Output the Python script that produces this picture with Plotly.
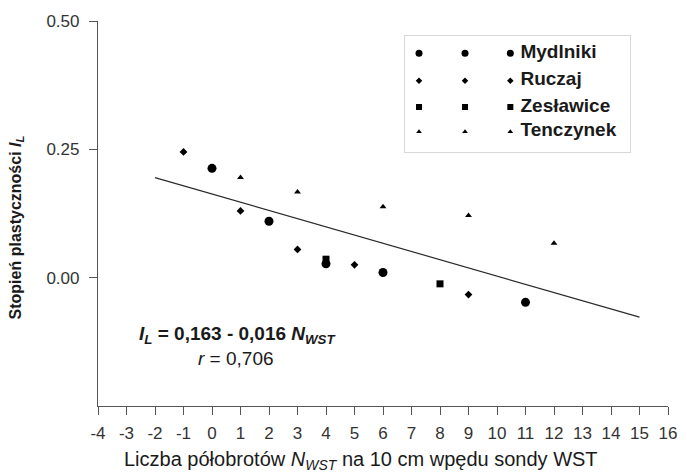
import plotly.graph_objects as go

# ---- data ----
series_names = ["Mydlniki", "Ruczaj", "Zesławice", "Tenczynek"]
mydlniki_x = [0, 2, 4, 6, 11]
mydlniki_y = [0.213, 0.110, 0.027, 0.010, -0.048]
ruczaj_x = [-1, 1, 3, 5, 9]
ruczaj_y = [0.245, 0.130, 0.055, 0.025, -0.033]
zeslawice_x = [4, 8]
zeslawice_y = [0.036, -0.012]
tenczynek_x = [1, 3, 6, 9, 12]
tenczynek_y = [0.195, 0.167, 0.138, 0.121, 0.067]
reg_intercept = 0.163
reg_slope = -0.016
reg_x = [-2, 15]
x_ticks = list(range(-4, 17))
y_ticks = [0.0, 0.25, 0.50]

# ---- styles ----
symbols = ["circle", "diamond", "square", "triangle-up"]
sizes = [9, 6, 7, 6]
leg_sizes = [7, 5, 6, 5]
FONT = "Arial, Liberation Sans, sans-serif"
TXT = "#1a1a1a"

fig = go.Figure()
data = [(mydlniki_x, mydlniki_y), (ruczaj_x, ruczaj_y),
        (zeslawice_x, zeslawice_y), (tenczynek_x, tenczynek_y)]
for name, (xs, ys), sym, sz in zip(series_names, data, symbols, sizes):
    fig.add_trace(go.Scatter(x=xs, y=ys, mode="markers", name=name,
                             marker=dict(symbol=sym, size=sz, color="black"),
                             showlegend=False))

reg_y = [reg_intercept + reg_slope * v for v in reg_x]
fig.add_trace(go.Scatter(x=reg_x, y=reg_y, mode="lines",
                         line=dict(color="#2a2a2a", width=1.2), showlegend=False))

# ---- custom legend (three marker columns) on an inset axis ----
leg_cols = [14, 60.7, 106.7]
leg_rows = [17.6, 45, 71.3, 96]
for name, sym, sz, row in zip(series_names, symbols, leg_sizes, leg_rows):
    fig.add_trace(go.Scatter(x=leg_cols, y=[row] * 3, mode="markers",
                             marker=dict(symbol=sym, size=sz, color="black"),
                             xaxis="x2", yaxis="y2", showlegend=False, hoverinfo="skip"))
    fig.add_trace(go.Scatter(x=[117], y=[row], mode="text", text=["<b>" + name + "</b>"],
                             textposition="middle right",
                             textfont=dict(family=FONT, size=19, color=TXT),
                             xaxis="x2", yaxis="y2", showlegend=False, hoverinfo="skip"))

fig.update_layout(
    width=687, height=474,
    margin=dict(l=98, r=10, t=21, b=68),
    paper_bgcolor="white", plot_bgcolor="white",
    font=dict(family=FONT, color=TXT),
    xaxis=dict(range=[-4, 16], tickvals=x_ticks, ticktext=[str(v) for v in x_ticks],
               showgrid=False, zeroline=False, showline=True, linecolor="#555",
               linewidth=1.2, ticks="outside", ticklen=8, tickcolor="#555",
               ticklabelstandoff=3,
               tickfont=dict(size=17, family=FONT, color="#333")),
    yaxis=dict(range=[-0.25, 0.5], tickvals=y_ticks, ticktext=["%.2f" % v for v in y_ticks],
               showgrid=False, zeroline=False, showline=True, linecolor="#555",
               linewidth=1.2, ticks="outside", ticklen=8, tickcolor="#555",
               ticklabelstandoff=6,
               tickfont=dict(size=17, family=FONT, color="#333")),
    xaxis2=dict(domain=[0.539, 0.933], range=[0, 228], anchor="y2",
                showgrid=False, zeroline=False, showticklabels=False,
                showline=True, mirror=True, linecolor="#d8d8d8", linewidth=1, fixedrange=True),
    yaxis2=dict(domain=[0.659, 0.962], range=[116.6, 0], anchor="x2",
                showgrid=False, zeroline=False, showticklabels=False,
                showline=True, mirror=True, linecolor="#d8d8d8", linewidth=1, fixedrange=True),
)

fig.add_annotation(text="Liczba półobrotów <i>N</i><sub><i>WST</i></sub> na 10 cm wpędu sondy WST",
                   xref="paper", yref="paper", x=(365 - 98) / 579, y=-(460 - 405.7) / 384.7,
                   showarrow=False, xanchor="center", yanchor="middle",
                   font=dict(size=20, family=FONT, color=TXT))
fig.add_annotation(text="<b>Stopień plastyczności <i>I</i><sub><i>L</i></sub></b>",
                   xref="paper", yref="paper", x=-(98 - 15) / 579, y=1 - (227 - 21) / 384.7,
                   showarrow=False, textangle=-90, xanchor="center", yanchor="middle",
                   font=dict(size=16, family=FONT, color=TXT))
fig.add_annotation(text="<b><i>I</i><sub><i>L</i></sub> = 0,163 - 0,016 <i>N</i><sub><i>WST</i></sub></b>",
                   xref="paper", yref="paper", x=(240 - 98) / 579, y=1 - (335 - 21) / 384.7,
                   showarrow=False, xanchor="center", yanchor="middle",
                   font=dict(size=19, family=FONT, color=TXT))
fig.add_annotation(text="<i>r</i> = 0,706",
                   xref="paper", yref="paper", x=(238 - 98) / 579, y=1 - (358 - 21) / 384.7,
                   showarrow=False, xanchor="center", yanchor="middle",
                   font=dict(size=19, family=FONT, color=TXT))

fig.write_html("out.html")
